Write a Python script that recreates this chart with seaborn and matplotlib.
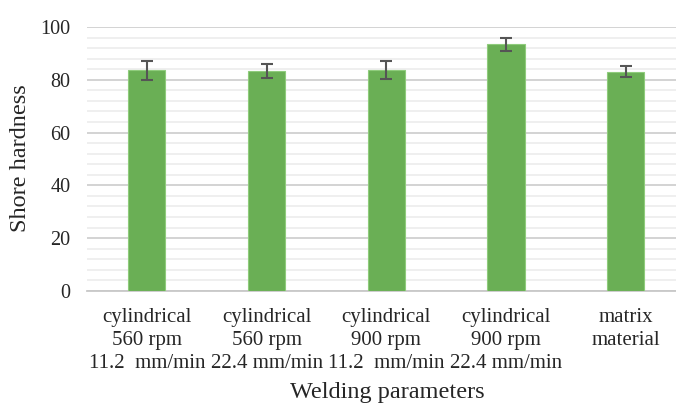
import numpy as np
import pandas as pd
import seaborn as sns
import matplotlib.pyplot as plt
from matplotlib.ticker import MultipleLocator

# Shore hardness per welding setting (mean and spread)
params = ["cylindrical\n560 rpm\n11.2  mm/min", "cylindrical\n560 rpm\n22.4 mm/min",
          "cylindrical\n900 rpm\n11.2  mm/min", "cylindrical\n900 rpm\n22.4 mm/min",
          "matrix\nmaterial"]
hardness = [83.7, 83.3, 83.7, 93.4, 83.1]
spread = [3.6, 2.5, 3.5, 2.5, 2.0]

df = pd.DataFrame({"param": params, "hardness": hardness})

sns.set_style("white")
plt.rcParams['font.family'] = ['Liberation Serif', 'DejaVu Serif']

fig = plt.figure(figsize=(6.76, 4.03), dpi=100)
ax = fig.add_axes([0.1287, 0.278, 0.8713, 0.655])

sns.barplot(data=df, x="param", y="hardness", color="#6aaf55", width=0.31,
            saturation=1, errorbar=None, edgecolor="#8fcc7c", linewidth=0.8, ax=ax, zorder=3)
ax.errorbar(np.arange(len(params)), hardness, yerr=spread, fmt="none",
            ecolor="#555555", elinewidth=1.5, capsize=4, capthick=1.5, zorder=4)

ax.set_ylim(0, 100)
ax.set_xlim(-0.5, 4.42)
ax.yaxis.set_major_locator(MultipleLocator(20))
ax.yaxis.set_minor_locator(MultipleLocator(4))
ax.grid(which="major", axis="y", color="#d0d0d0", lw=1.3, zorder=0)
ax.grid(which="minor", axis="y", color="#ebebeb", lw=1.1, zorder=0)
ax.set_axisbelow(True)
for s in ["top", "right", "left"]:
    ax.spines[s].set_visible(False)
ax.spines["bottom"].set_color("#c8c8c8")
ax.spines["bottom"].set_linewidth(1.3)
ax.tick_params(axis="both", which="both", length=0)
ax.tick_params(axis="y", labelsize=14.5, pad=12)
ax.tick_params(axis="x", labelsize=15, pad=12)
for t in ax.get_xticklabels():
    t.set_linespacing(1.3)
ax.set_xlabel("")
ax.set_ylabel("")

fig.text(0.03, 0.608, "Shore hardness", rotation=90, ha="center", va="center", fontsize=17.5)
fig.text(0.573, 0.025, "Welding parameters", ha="center", va="center", fontsize=17.5)

fig.savefig("out.png", dpi=100)
